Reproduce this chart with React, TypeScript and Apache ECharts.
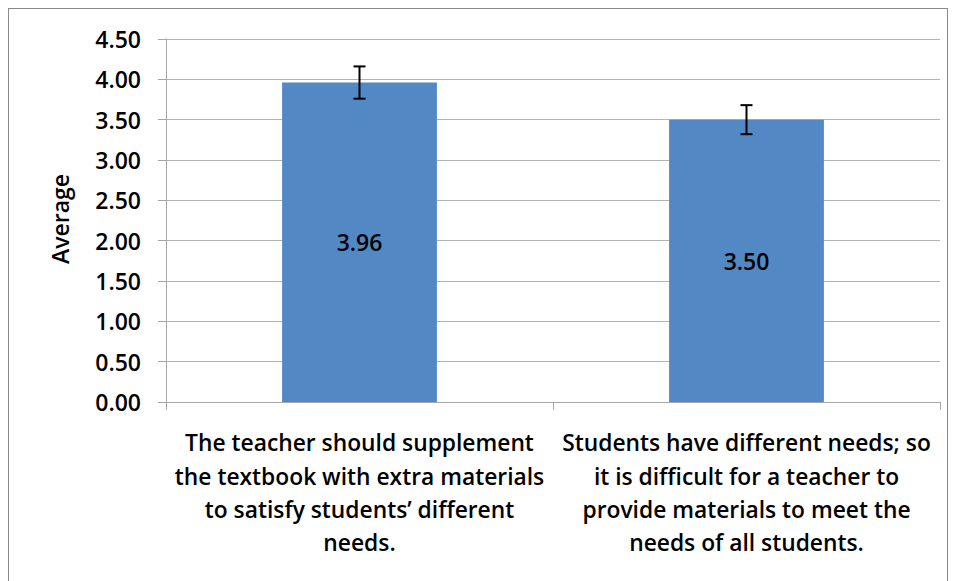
import React, { useEffect, useRef } from "react";
import * as echarts from "echarts";

const categories = [
  "The teacher should supplement\nthe textbook with extra materials\nto satisfy students’ different\nneeds.",
  "Students have different needs; so\nit is difficult for a teacher to\nprovide materials to meet the\nneeds of all students.",
];
const averages = [3.96, 3.5];
const errors = [0.2, 0.18];
const yTicks = { min: 0, max: 4.5, interval: 0.5 };
const yTitle = "Average";

const FONT = "'Open Sans', 'Noto Sans', sans-serif";

export default function App() {
  const ref = useRef<HTMLDivElement>(null);
  useEffect(() => {
    if (!ref.current) return;
    const chart = echarts.init(ref.current, undefined, { renderer: "svg" });
    const errData = averages.map((v, i) => [i, v - errors[i], v + errors[i]]);
    chart.setOption({
      animation: false,
      backgroundColor: "#ffffff",
      grid: { left: 158, right: 16, top: 31, bottom: 179 },
      xAxis: {
        type: "category",
        data: categories,
        axisLine: { lineStyle: { color: "#a6a6a6", width: 1 } },
        axisTick: { show: true, length: 8, lineStyle: { color: "#a6a6a6" } },
        axisLabel: {
          interval: 0,
          margin: 24,
          color: "#000",
          fontFamily: FONT,
          fontWeight: 600,
          fontSize: 22.8,
          lineHeight: 33.4,
          align: "center",
        },
      },
      yAxis: {
        type: "value",
        min: yTicks.min,
        max: yTicks.max,
        interval: yTicks.interval,
        axisLine: { show: true, lineStyle: { color: "#a6a6a6", width: 1 } },
        axisTick: { show: true, length: 8, lineStyle: { color: "#a6a6a6" } },
        splitLine: { lineStyle: { color: "#b3b3b3", width: 1 } },
        axisLabel: {
          margin: 25,
          color: "#000",
          fontFamily: FONT,
          fontWeight: 600,
          fontSize: 23,
          formatter: (v: number) => v.toFixed(2),
        },
      },
      graphic: [
        {
          type: "rect",
          shape: { x: 0, y: 0, width: 940, height: 620 },
          style: { fill: "none", stroke: "#8a8a8a", lineWidth: 2 },
          silent: true,
        },
        {
          type: "text",
          x: 52,
          y: 211,
          rotation: Math.PI / 2,
          style: {
            text: yTitle,
            fontFamily: FONT,
            fontWeight: 600,
            fontSize: 23,
            fill: "#000",
            align: "center",
            verticalAlign: "middle",
          },
        },
      ],
      series: [
        {
          type: "bar",
          data: averages,
          barWidth: "40%",
          itemStyle: { color: "#5288c3" },
          label: {
            show: true,
            position: "inside",
            color: "#000",
            fontFamily: FONT,
            fontWeight: 600,
            fontSize: 23,
            formatter: (p: any) => Number(p.value).toFixed(2),
          },
        },
        {
          type: "custom",
          data: errData,
          z: 10,
          renderItem: (params: any, api: any) => {
            const x = api.value(0);
            const lo = api.coord([x, api.value(1)]);
            const hi = api.coord([x, api.value(2)]);
            const cap = 6;
            const style = { stroke: "#000", lineWidth: 2 };
            return {
              type: "group",
              children: [
                { type: "line", shape: { x1: lo[0], y1: lo[1], x2: hi[0], y2: hi[1] }, style },
                { type: "line", shape: { x1: hi[0] - cap, y1: hi[1], x2: hi[0] + cap, y2: hi[1] }, style },
                { type: "line", shape: { x1: lo[0] - cap, y1: lo[1], x2: lo[0] + cap, y2: lo[1] }, style },
              ],
            };
          },
        },
      ],
    });
    return () => chart.dispose();
  }, []);
  return <div ref={ref} style={{ width: 948, height: 573 }} />;
}
